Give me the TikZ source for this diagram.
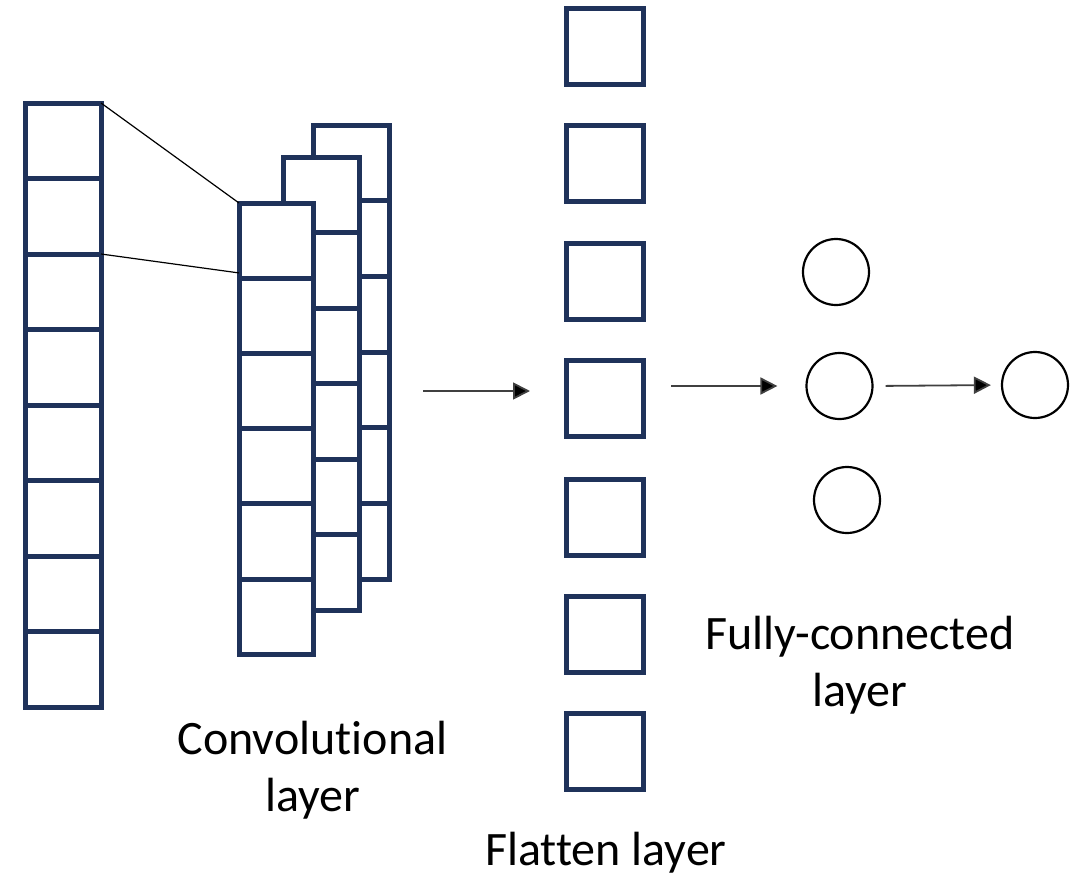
\documentclass[tikz,border=0pt]{standalone}
\usepackage{fontspec}
\setmainfont{Carlito}[Ligatures=NoCommon]
\usetikzlibrary{arrows.meta,calc}
\definecolor{navy}{RGB}{31,50,90}
\definecolor{arrowgrey}{RGB}{64,64,64}
\tikzset{
  cell/.style={draw=navy, line width=5pt, fill=white, inner sep=0pt, outer sep=0pt,
               minimum width=76pt, minimum height=75.5pt},
  neuron/.style={circle, draw=black, line width=2.2pt, fill=white, inner sep=0pt,
                 minimum size=66pt},
  link/.style={draw=black, line width=1.2pt},
  flow/.style={draw=arrowgrey, line width=1.8pt, -{Triangle[length=17pt,width=17pt,fill=black]}},
  caption/.style={font=\fontsize{48}{57}\selectfont, align=center, inner sep=0pt, anchor=base}
}
\begin{document}
\begin{tikzpicture}[x=1pt,y=-1pt]
\useasboundingbox (0,0) rectangle (1082,889);

% input column: eight stacked cells
\foreach \i in {1,...,8}
  \node[cell] (in\i) at (63,{103+75.5*(\i-0.5)}) {};

% convolutional layer: three overlapping feature maps, back to front
\foreach \i in {1,...,6}
  \node[cell, minimum height=75.7pt] (b\i) at (351,{125+75.7*(\i-0.5)}) {};
\foreach \i in {1,...,6}
  \node[cell, minimum height=75.5pt] (m\i) at (321,{157+75.5*(\i-0.5)}) {};
\foreach \i in {1,...,6}
  \node[cell, minimum width=74pt, minimum height=75.2pt] (f\i) at (276,{203+75.2*(\i-0.5)}) {};

% receptive field of the first output cell
\draw[link] (in1.north east) -- (f1.north west);
\draw[link] (in2.south east) -- ($(f1.south west)!0.07!(f1.north west)$);

% flatten layer
\foreach \i/\y in {1/46.5,2/163.5,3/281,4/398.5,5/517.5,6/634,7/751}
  \node[cell, minimum width=77pt, minimum height=76pt] (fl\i) at (604.5,\y) {};

% fully-connected layer and output
\node[neuron] (c1) at (836,272) {};
\node[neuron] (c2) at (839.5,386) {};
\node[neuron] (c3) at (847,500) {};
\node[neuron] (c4) at (1035,385) {};

% data flow
\coordinate (convout) at (423,391);
\draw[flow, shorten >=36pt] (convout) -- (fl4.west |- convout);
\draw[flow, shorten <=28pt, shorten >=28pt] (fl4.east |- c2) -- (c2.west);
\draw[flow, shorten <=12pt, shorten >=10pt] (c2.east) -- (c4.west);

% captions (multi-line nodes sit on the baseline of their last line)
\node[caption] (convlabel) at (312.5,811) {Convolutional\\layer};
\node[caption] (fclabel) at (860,706) {Fully-connected\\layer};
\node[caption] (flatlabel) at (606,865) {Flatten layer};
\end{tikzpicture}
\end{document}
